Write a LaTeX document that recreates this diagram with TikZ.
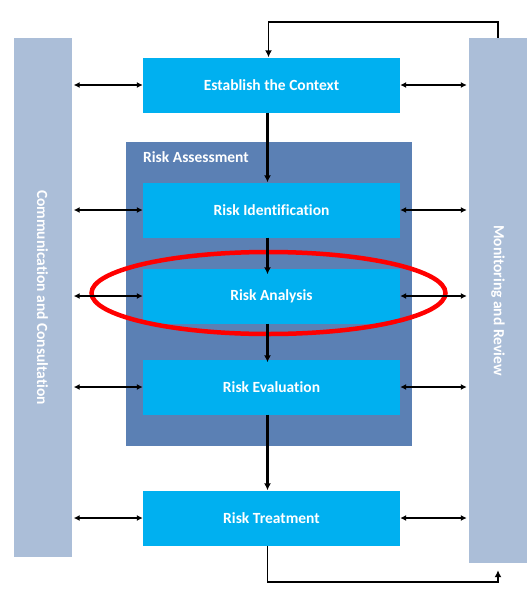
\documentclass[tikz,border=0pt]{standalone}
\usepackage{fontspec}
\setmainfont{Carlito}[Ligatures=NoCommon]
\usepackage{graphicx}
\usetikzlibrary{arrows.meta}
\definecolor{stepcyan}{HTML}{00B0F0}
\definecolor{assessblue}{HTML}{5B80B4}
\definecolor{sidegray}{HTML}{ABBED8}

\begin{document}
\begin{tikzpicture}[
    x=1pt, y=-1pt,
    font=\fontsize{15.5}{18}\selectfont\bfseries,
    stage/.style = {shape=rectangle, fill=stepcyan, text=white, minimum width=257pt, minimum height=55pt, inner sep=0pt},
    side/.style  = {shape=rectangle, fill=sidegray, text=white, minimum width=58pt, inner sep=0pt},
    link/.style  = {{Latex[length=6pt,width=6pt]}-{Latex[length=6pt,width=6pt]}, line width=1.3pt, shorten <=2pt},
    flow/.style  = {-{Latex[length=7pt,width=7pt]}, line width=2.2pt}
    ]
    \useasboundingbox (0,0) rectangle (530,598);

    % Side bars
    \node[side, minimum height=519pt] (comm) at (42.5, 297.5) {\rotatebox{-90}{Communication and Consultation}};
    \node[side, minimum height=525pt] (mon)  at (498, 300.5)  {\rotatebox{-90}{Monitoring and Review}};

    % Risk assessment frame
    \node[shape=rectangle, fill=assessblue, minimum width=286pt, minimum height=304pt] (assess) at (269, 294) {};
    \node[text=white, anchor=west, inner sep=0pt] (assess label) at (143, 157) {Risk Assessment};

    % Process steps
    \node[stage] (ctx)   at (271.5, 85)  {Establish the Context};
    \node[stage] (ident) at (271.5, 210) {Risk Identification};
    \node[stage] (ana)   at (271.5, 296) {Risk Analysis};
    \node[stage] (eval)  at (271.5, 387) {Risk Evaluation};
    \node[stage] (treat) at (271.5, 518) {Risk Treatment};

    % Highlight
    \draw[red, line width=4.5pt] (ana.center) ++(-3, -3) ellipse [x radius=177, y radius=41];

    % Main flow
    \draw[flow] ([xshift=-4pt]ctx.south)   -- ([xshift=-4pt]ident.north);
    \draw[flow] ([xshift=-4pt]ident.south) -- ([xshift=-4pt, yshift=-6pt]ana.north);
    \draw[flow] ([xshift=-4pt]ana.south)   -- ([xshift=-4pt, yshift=-3pt]eval.north);
    \draw[flow] ([xshift=-4pt]eval.south)  -- ([xshift=-4pt]treat.north);

    % Feedback loop
    \draw[flow, line width=1.6pt] (mon.north) -- ++(0, -16) -| ([xshift=-3pt]ctx.north);
    \draw[flow, line width=1.6pt, shorten >=7pt] ([xshift=-4pt]treat.south) -- ++(0, 36) -| (mon.south);

    % Communication links
    \foreach \s in {ctx, ident, ana, eval, treat} {
        \draw[link] (comm.east |- \s.west) -- (\s.west);
        \draw[link] (mon.west |- \s.east)  -- (\s.east);
    }
\end{tikzpicture}
\end{document}
